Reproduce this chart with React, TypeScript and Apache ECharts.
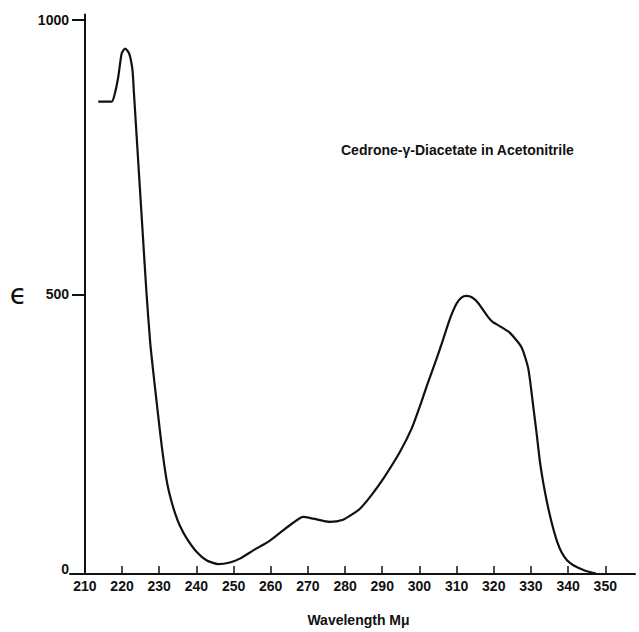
import React, { useEffect, useRef } from "react";
import * as echarts from "echarts";

const wavelengths = [
  213.6, 217.2, 218.1, 219.0, 219.9, 220.8, 221.9, 222.8, 223.2, 223.9, 224.6, 225.5, 226.6,
  227.6, 228.7, 229.7, 230.7, 231.5, 232.3, 233.2, 234.3, 235.5, 237.4, 240.1, 242.7, 245.9, 249.0,
  251.7, 255.3, 259.8, 263.4, 267.0, 268.7, 271.4, 275.9, 279.5, 282.2, 284.0, 287.0, 290.3, 294.7,
  297.9, 300.5, 302.3, 304.6, 306.4, 308.2, 310.0, 311.3, 312.7, 314.2, 315.8, 318.3, 319.6, 321.6,
  324.3, 327.5, 329.3, 330.6, 331.5, 332.4, 333.3, 334.2, 335.1, 336.0, 337.1, 338.2, 339.7, 341.4,
  343.2, 345.0, 347.5,
];
const epsilon = [
  851, 851, 867, 897, 939, 948, 939, 909, 867, 791, 715, 618, 500,
  410, 340, 280, 222, 182, 150, 125, 100, 79, 55, 30, 15, 8, 11,
  18, 33, 51, 70, 88, 94, 91, 85, 89, 100, 109, 133, 164, 212,
  255, 303, 339, 382, 418, 455, 483, 494, 497, 494, 484, 460, 450, 442,
  430, 403, 364, 297, 248, 196, 157, 125, 97, 73, 48, 30, 15, 6,
  0, -5, -9,
];
const xTickValues = [210, 220, 230, 240, 250, 260, 270, 280, 290, 300, 310, 320, 330, 340, 350];
const yTickValues = [500, 1000];
const yLabelValues = [0, 500, 1000];

const titleText = "Cedrone-γ-Diacetate in Acetonitrile";
const xName = "Wavelength Mμ";
const yName = "ϵ";

export default function App() {
  const ref = useRef<HTMLDivElement>(null);
  useEffect(() => {
    if (!ref.current) return;
    const chart = echarts.init(ref.current, null, { renderer: "svg" });
    const font = "'Liberation Sans', Arial, sans-serif";
    chart.setOption({
      animation: false,
      backgroundColor: "#ffffff",
      title: {
        text: titleText,
        left: 341,
        top: 142,
        padding: 0,
        textStyle: { fontFamily: font, fontWeight: "bold", fontSize: 14, color: "#111", lineHeight: 16 },
      },
      grid: { left: 70, right: 4, top: 14.5, bottom: 56.5, containLabel: false },
      xAxis: {
        type: "value",
        min: 206,
        max: 358,
        name: xName,
        nameLocation: "middle",
        nameGap: 39,
        nameTextStyle: { fontFamily: font, fontWeight: "bold", fontSize: 14, color: "#111", padding: [0, 0, 0, 12] },
        axisLine: { onZero: false, lineStyle: { color: "#111", width: 2 } },
        axisTick: { inside: true, length: 8, customValues: xTickValues, lineStyle: { color: "#111", width: 1.5 } },
        axisLabel: {
          customValues: xTickValues,
          margin: 5,
          fontFamily: font,
          fontWeight: "bold",
          fontSize: 14,
          color: "#111",
          formatter: (v: number) => String(v),
        },
        splitLine: { show: false },
      },
      yAxis: {
        type: "value",
        min: -10,
        max: 1010,
        offset: -15,
        name: yName,
        nameLocation: "middle",
        nameRotate: 0,
        nameGap: 58,
        nameTextStyle: { fontFamily: "'DejaVu Sans', sans-serif", fontSize: 28, color: "#111" },
        axisLine: { show: true, lineStyle: { color: "#111", width: 2 } },
        axisTick: { show: true, length: 13, customValues: yTickValues, lineStyle: { color: "#111", width: 2 } },
        axisLabel: {
          customValues: yLabelValues,
          margin: 16,
          fontFamily: font,
          fontWeight: "bold",
          fontSize: 14,
          color: "#111",
          formatter: (v: number) => String(v),
        },
        splitLine: { show: false },
      },
      series: [
        {
          type: "line",
          data: wavelengths.map((w, i) => [w, epsilon[i]]),
          showSymbol: false,
          smooth: 0.2,
          clip: false,
          lineStyle: { color: "#111", width: 2.2, join: "round" },
        },
      ],
    });
    return () => chart.dispose();
  }, []);
  return <div ref={ref} style={{ width: 639, height: 632, position: "absolute", left: 0, top: 0 }} />;
}
